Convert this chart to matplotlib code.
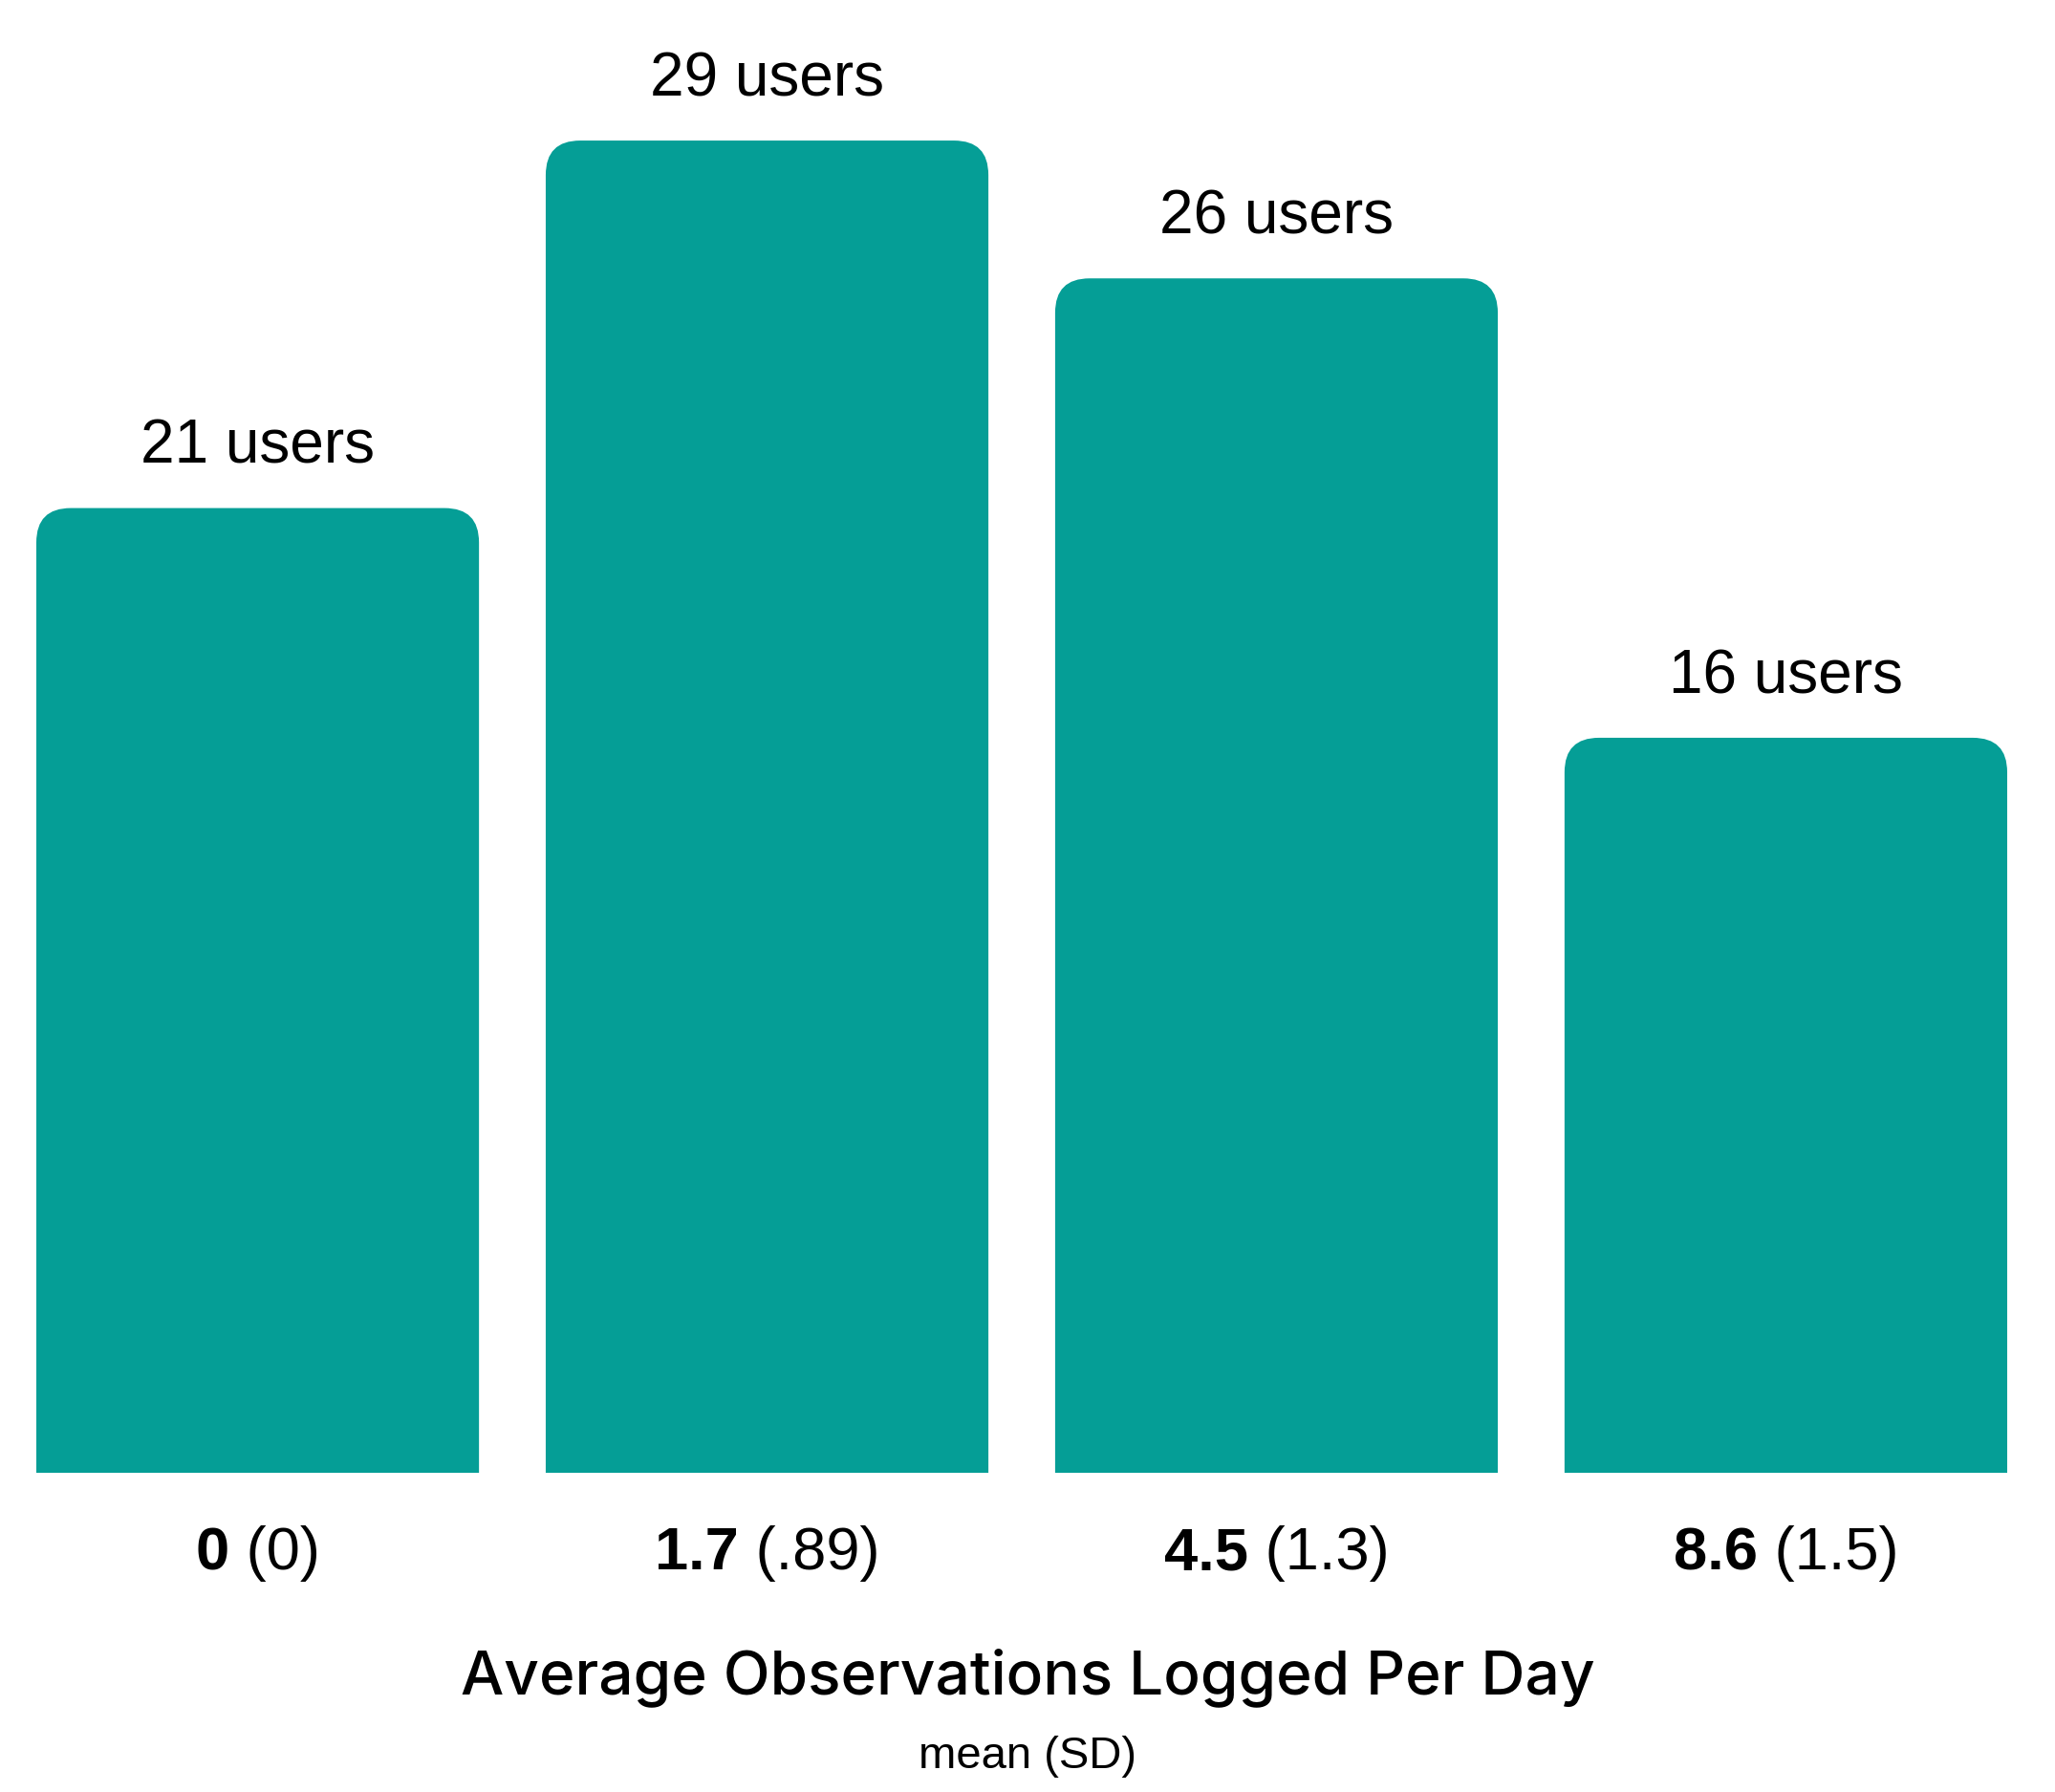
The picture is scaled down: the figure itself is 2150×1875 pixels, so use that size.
import matplotlib
matplotlib.use("Agg")
import matplotlib.pyplot as plt
from matplotlib.patches import FancyBboxPatch

# group means (SD) and user counts
means = ["0", "1.7", "4.5", "8.6"]
sds = ["(0)", "(.89)", "(1.3)", "(1.5)"]
users = [21, 29, 26, 16]

teal = "#059e96"
W, H = 2150, 1875
fig = plt.figure(figsize=(W / 100, H / 100), dpi=100)
ax = fig.add_axes([38 / W, (H - 1541) / H, (2100 - 38) / W, (1541 - 99) / H])

bw = 0.869
x = list(range(len(users)))
ax.set_xlim(-bw / 2, len(users) - 1 + bw / 2)
ax.set_ylim(0, 30)
ax.axis("off")

# rounded top corners: box runs below zero and gets clipped by the axes
radius_px = 36
px_x = ax.transData.transform((1, 0))[0] - ax.transData.transform((0, 0))[0]
px_y = ax.transData.transform((0, 1))[1] - ax.transData.transform((0, 0))[1]
rx = radius_px / px_x
ry = radius_px / px_y
for xi, n in zip(x, users):
    p = FancyBboxPatch((xi - bw / 2, -3), bw, n + 3,
                       boxstyle=f"round,pad=0,rounding_size={rx}",
                       mutation_aspect=ry / rx, fc=teal, ec="none")
    ax.add_patch(p)
    ax.annotate(f"{n} users", (xi, n), xytext=(0, 46), textcoords="offset points",
                ha="center", va="center", fontsize=46, family="Liberation Sans")

# tick labels: bold mean followed by regular SD
fig.canvas.draw()
r = fig.canvas.get_renderer()
ty = -61
for xi, m, s in zip(x, means, sds):
    t1 = ax.annotate(m, (xi, 0), xytext=(0, ty), textcoords="offset points",
                     ha="left", va="center", fontsize=45.5, fontweight="bold",
                     family="Liberation Sans")
    t2 = ax.annotate(" " + s, (xi, 0), xytext=(0, ty), textcoords="offset points",
                     ha="left", va="center", fontsize=45.5, family="Liberation Sans")
    w1 = t1.get_window_extent(r).width
    w2 = t2.get_window_extent(r).width
    tot = (w1 + w2) * 72 / fig.dpi
    t1.set_position((-tot / 2, ty))
    t2.set_position((-tot / 2 + w1 * 72 / fig.dpi, ty))

fig.text(0.5, 1 - 1755 / H, "Average Observations Logged Per Day", ha="center",
         va="center", fontsize=46, fontweight="medium", family="Inter")
fig.text(0.5, 1 - 1838 / H, "mean (SD)", ha="center", va="center",
         fontsize=34, family="Liberation Sans")

fig.savefig("out.png", dpi=100, facecolor="white")
